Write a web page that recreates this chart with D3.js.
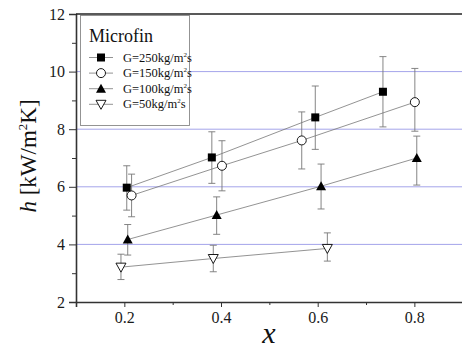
<!DOCTYPE html>
<html>
<head>
<meta charset="utf-8">
<script src="https://cdn.jsdelivr.net/npm/d3@7"></script>
<style>
  body { margin: 0; background: #fff; }
  svg { display: block; }
  svg text { font-family: "Liberation Serif", "Times New Roman", serif !important; }
</style>
</head>
<body>
<svg id="chart" width="462" height="351"></svg>
<script>
// series data: x, h, error low, error high
const g250 = [
  { x: 0.205, y: 5.97, lo: 5.19, hi: 6.73 },
  { x: 0.381, y: 7.02, lo: 6.12, hi: 7.91 },
  { x: 0.595, y: 8.41, lo: 7.30, hi: 9.50 },
  { x: 0.735, y: 9.30, lo: 8.08, hi: 10.52 }
];
const g150 = [
  { x: 0.215, y: 5.70, lo: 4.96, hi: 6.44 },
  { x: 0.402, y: 6.73, lo: 5.86, hi: 7.60 },
  { x: 0.567, y: 7.61, lo: 6.62, hi: 8.60 },
  { x: 0.801, y: 8.94, lo: 7.93, hi: 10.11 }
];
const g100 = [
  { x: 0.207, y: 4.17, lo: 3.63, hi: 4.69 },
  { x: 0.391, y: 5.02, lo: 4.35, hi: 5.65 },
  { x: 0.607, y: 6.02, lo: 5.23, hi: 6.79 },
  { x: 0.805, y: 7.00, lo: 6.06, hi: 7.76 }
];
const g50 = [
  { x: 0.193, y: 3.21, lo: 2.78, hi: 3.66 },
  { x: 0.384, y: 3.51, lo: 3.05, hi: 3.97 },
  { x: 0.620, y: 3.86, lo: 3.42, hi: 4.40 }
];
const seriesNames = ["G=250kg/m", "G=150kg/m", "G=100kg/m", "G=50kg/m"];
const seriesSymbols = ["square", "circle", "triUp", "triDown"];
const xTicks = [0.2, 0.4, 0.6, 0.8];
const xMinor = [0.3, 0.5, 0.7];
const yTicks = [2, 4, 6, 8, 10, 12];
const yMinor = [3, 5, 7, 9, 11];
const gridValues = [4, 6, 8, 10];

const allSeries = [g250, g150, g100, g50];

const svg = d3.select("#chart");
const mLeft = 76, mRight = 462.7, mTop = 14, mBottom = 302;

const x = d3.scaleLinear().domain([0.1, 0.9]).range([mLeft, mRight]);
const y = d3.scaleLinear().domain([2, 12]).range([mBottom, mTop]);

// grid lines
svg.append("g").selectAll("line").data(gridValues).join("line")
  .attr("x1", mLeft).attr("x2", 462)
  .attr("y1", d => y(d)).attr("y2", d => y(d))
  .attr("stroke", "#a4a4ea").attr("stroke-width", 1);

// axes
svg.append("g").attr("transform", `translate(0,${mBottom})`)
  .call(d3.axisBottom(x).tickValues(xTicks).tickFormat(d3.format(".1f")).tickSize(5).tickPadding(5));
svg.append("g").attr("transform", `translate(0,${mBottom})`)
  .call(d3.axisBottom(x).tickValues(xMinor).tickFormat("").tickSize(3))
  .select(".domain").remove();
svg.append("g").attr("transform", `translate(${mLeft},0)`)
  .call(d3.axisLeft(y).tickValues(yTicks).tickSize(7).tickPadding(4));
svg.append("g").attr("transform", `translate(${mLeft},0)`)
  .call(d3.axisLeft(y).tickValues(yMinor).tickFormat("").tickSize(4))
  .select(".domain").remove();

svg.selectAll(".domain").attr("stroke", "#333").attr("stroke-width", 1.6);
svg.selectAll(".tick line").attr("stroke", "#333").attr("stroke-width", 1);
svg.selectAll(".tick text").attr("font-size", 16).attr("fill", "#1a1a1a");
// top border
svg.append("line").attr("x1", mLeft).attr("x2", 462).attr("y1", mTop).attr("y2", mTop)
  .attr("stroke", "#222").attr("stroke-width", 1.6);

// symbol drawing
function drawSymbol(g, type, cx, cy) {
  if (type === "square") {
    g.append("rect").attr("x", cx - 4).attr("y", cy - 4).attr("width", 8).attr("height", 8)
      .attr("fill", "#000");
  } else if (type === "circle") {
    g.append("circle").attr("cx", cx).attr("cy", cy).attr("r", 4.5)
      .attr("fill", "#fff").attr("stroke", "#000").attr("stroke-width", 0.9);
  } else if (type === "triUp") {
    g.append("path").attr("d", `M${cx},${cy - 5}L${cx + 5},${cy + 4}L${cx - 5},${cy + 4}Z`)
      .attr("fill", "#000");
  } else {
    g.append("path").attr("d", `M${cx - 5},${cy - 4}L${cx + 5},${cy - 4}L${cx},${cy + 5}Z`)
      .attr("fill", "#fff").attr("stroke", "#000").attr("stroke-width", 0.9);
  }
}

const line = d3.line().x(d => x(d.x)).y(d => y(d.y));

allSeries.forEach((data, i) => {
  const g = svg.append("g");
  // error bars
  data.forEach(d => {
    const cx = x(d.x);
    g.append("line").attr("x1", cx).attr("x2", cx).attr("y1", y(d.lo)).attr("y2", y(d.hi))
      .attr("stroke", "#777").attr("stroke-width", 0.9);
    [d.lo, d.hi].forEach(v => {
      g.append("line").attr("x1", cx - 3.5).attr("x2", cx + 3.5).attr("y1", y(v)).attr("y2", y(v))
        .attr("stroke", "#777").attr("stroke-width", 0.9);
    });
  });
  g.append("path").datum(data).attr("d", line)
    .attr("fill", "none").attr("stroke", "#777").attr("stroke-width", 0.8);
  data.forEach(d => drawSymbol(g, seriesSymbols[i], x(d.x), y(d.y)));
});

// legend
const lg = svg.append("g");
lg.append("rect").attr("x", 80.5).attr("y", 15.5).attr("width", 109).attr("height", 110)
  .attr("fill", "#fff").attr("stroke", "#888").attr("stroke-width", 0.9);
lg.append("text").attr("x", 89).attr("y", 42).attr("font-size", 18).attr("fill", "#111").text("Microfin");
seriesNames.forEach((name, i) => {
  const cy = 57.5 + i * 15.6;
  lg.append("line").attr("x1", 89).attr("x2", 113).attr("y1", cy).attr("y2", cy)
    .attr("stroke", "#777").attr("stroke-width", 0.8);
  drawSymbol(lg, seriesSymbols[i], 101, cy);
  const t = lg.append("text").attr("x", 123).attr("y", cy + 4).attr("font-size", 12.5).attr("fill", "#111");
  t.append("tspan").text(name);
  t.append("tspan").attr("font-size", 7).attr("dy", -5).text("2");
  t.append("tspan").attr("dy", 5).text("s");
});

// axis titles
svg.append("text").attr("x", 269).attr("y", 343).attr("text-anchor", "middle")
  .attr("font-size", 30).attr("font-style", "italic").attr("fill", "#111").text("x");
const yt = svg.append("text").attr("transform", "translate(36,156) rotate(-90)")
  .attr("text-anchor", "middle").attr("font-size", 23).attr("fill", "#111");
yt.append("tspan").attr("font-style", "italic").text("h");
yt.append("tspan").text(" [kW/m");
yt.append("tspan").attr("font-size", 13).attr("dy", -9).text("2");
yt.append("tspan").attr("dy", 9).text("K]");
</script>
</body>
</html>
